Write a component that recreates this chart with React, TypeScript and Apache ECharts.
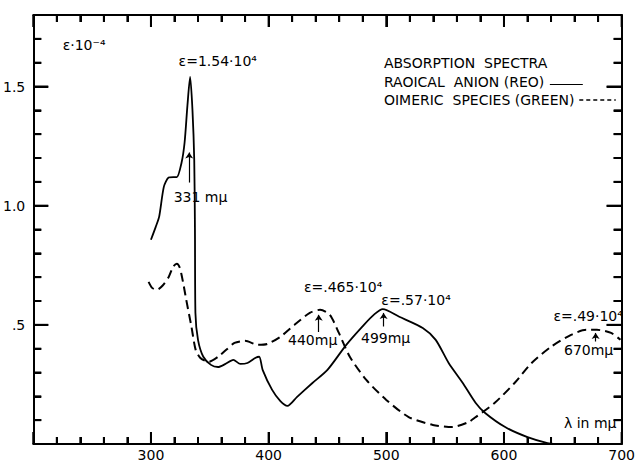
import React, { useEffect, useRef } from "react";
import * as echarts from "echarts";

// Radical anion (red) — solid curve: [wavelength mμ, ε·10^-4]
const radicalAnion: [number, number][] = [
  [300, 0.857], [304, 0.91], [307, 0.954], [311, 1.08], [315, 1.118], [319, 1.12], [322, 1.12],
  [326, 1.18], [328.6, 1.265], [331, 1.42], [333.3, 1.54], [335.3, 1.40], [336.8, 1.19],
  [337.4, 0.9], [337.8, 0.55], [340, 0.437], [344.5, 0.366], [351, 0.332], [357, 0.323],
  [363, 0.335], [370, 0.353], [376, 0.336], [382, 0.34], [389, 0.362], [392, 0.366],
  [395, 0.31], [403, 0.227], [410, 0.18], [416, 0.16], [424, 0.197], [437, 0.255],
  [450, 0.311], [466, 0.416], [481, 0.5], [490, 0.545], [497, 0.566], [511, 0.534],
  [531, 0.487], [542, 0.437], [553, 0.34], [565, 0.256], [576, 0.172], [584, 0.13],
  [601, 0.071], [620, 0.029], [637, 0.004], [645, 0],
];

// Dimeric species (green) — dashed curve
const dimericSpecies: [number, number][] = [
  [298, 0.68], [301, 0.655], [305, 0.647], [310, 0.665], [315, 0.70], [319, 0.745], [322, 0.756],
  [324.5, 0.74], [326, 0.71], [328, 0.66], [330, 0.605], [334.5, 0.49], [338, 0.395],
  [342, 0.361], [349, 0.345], [357, 0.366], [364, 0.395], [371, 0.424], [380, 0.433],
  [391, 0.416], [399, 0.42], [410, 0.45], [422, 0.5], [435, 0.55], [443.7, 0.563],
  [452, 0.542], [459.7, 0.466], [469, 0.366], [483, 0.269], [500, 0.185], [519, 0.113],
  [539.5, 0.08], [556, 0.071], [570, 0.092], [576, 0.113], [592, 0.172], [609, 0.256],
  [623.5, 0.34], [640, 0.408], [657, 0.458], [670, 0.479], [679, 0.479], [691, 0.466],
  [699, 0.437],
];

const xTickLabels = [300, 400, 500, 600, 700];
const yTickLabels: [number, string][] = [[0.5, ".5"], [1.0, "1.0"], [1.5, "1.5"]];

// frame tick positions (minor every 20 mμ / 0.1, major every 100 mμ / 0.5)
const xTickValues = [200, 220, 240, 260, 280, 300, 320, 340, 360, 380, 400, 420, 440, 460, 480,
  500, 520, 540, 560, 580, 600, 620, 640, 660, 680, 700];
const yTickValues = [0, 0.1, 0.2, 0.3, 0.4, 0.5, 0.6, 0.7, 0.8, 0.9, 1.0, 1.1, 1.2, 1.3, 1.4,
  1.5, 1.6, 1.7, 1.8];

// annotation texts anchored in data coordinates (left edge, vertical middle)
const annotations: [string, number, number][] = [
  ["ε·10⁻⁴", 225, 1.676],
  ["ε=1.54·10⁴", 323.5, 1.605],
  ["331 mμ", 319.3, 1.038],
  ["ε=.465·10⁴", 430, 0.66],
  ["440mμ", 416.5, 0.437],
  ["ε=.57·10⁴", 495.8, 0.605],
  ["499mμ", 478.5, 0.445],
  ["ε=.49·10⁴", 642, 0.535],
  ["670mμ", 651, 0.395],
  ["λ in mμ", 651, 0.088],
  ["ABSORPTION  SPECTRA", 498, 1.60],
  ["RAOICAL  ANION (REO)", 498, 1.517],
  ["OIMERIC  SPECIES (GREEN)", 498, 1.445],
];

// arrows: [x, yFrom, yTo]
const arrows: [number, number, number][] = [
  [332.5, 1.097, 1.223],
  [442.6, 0.47, 0.542],
  [497.7, 0.493, 0.55],
  [677.9, 0.43, 0.466],
];

// legend sample lines: [x1, x2, y]
const solidSample: [number, number, number] = [639, 667, 1.508];
const dashedSample: [number, number, number] = [664, 695, 1.445];

const FONT = "DejaVu Sans";

export default function App() {
  const ref = useRef<HTMLDivElement>(null);
  useEffect(() => {
    if (!ref.current) return;
    const chart = echarts.init(ref.current, null, { renderer: "svg" });
    const line = (show: boolean) => ({ show, onZero: false, lineStyle: { color: "#000", width: 2 } });
    const tick = (len: number) => ({ show: true, inside: true, length: len, lineStyle: { color: "#000", width: 2 } });
    const xAxisOf = (pos: string, labels: boolean) => ({
      type: "value",
      position: pos,
      min: 200,
      max: 700,
      interval: 100,
      splitLine: { show: false },
      axisLine: line(true),
      axisTick: tick(12),
      minorTick: { show: true, splitNumber: 5, length: 7, lineStyle: { color: "#000", width: 2 } },
      axisLabel: labels
        ? {
            show: true,
            color: "#000",
            fontFamily: FONT,
            fontSize: 14,
            margin: 4,
            formatter: (v: number) => (xTickLabels.includes(v) ? String(v) : ""),
          }
        : { show: false },
    });
    const yAxisOf = (pos: string, interval: number, len: number, labels: boolean, showLine: boolean) => ({
      type: "value",
      position: pos,
      min: 0,
      max: 1.8,
      interval,
      splitLine: { show: false },
      axisLine: line(showLine),
      axisTick: tick(len),
      axisLabel: labels
        ? {
            show: true,
            color: "#000",
            fontFamily: FONT,
            fontSize: 14,
            margin: 8,
            formatter: (v: number) => {
              const f = yTickLabels.find((t) => Math.abs(t[0] - v) < 1e-6);
              return f ? f[1] : "";
            },
          }
        : { show: false },
    });
    const sampleLine = (s: [number, number, number]) => [
      { coord: [s[0], s[2]], symbol: "none" },
      { coord: [s[1], s[2]], symbol: "none" },
    ];
    // tick items: [side (0 bottom, 1 top, 2 left, 3 right), value, isMajor]
    const tickItems: number[][] = [];
    xTickValues.forEach((v) => {
      const major = v % 100 === 0 ? 1 : 0;
      tickItems.push([0, v, major], [1, v, major]);
    });
    yTickValues.forEach((v) => {
      const major = Math.abs(v * 2 - Math.round(v * 2)) < 1e-6 ? 1 : 0;
      tickItems.push([2, v, major], [3, v, major]);
    });
    chart.setOption({
      animation: false,
      grid: { left: 32, right: 8, top: 15, bottom: 19 },
      xAxis: [xAxisOf("bottom", true), xAxisOf("top", false)],
      yAxis: [
        yAxisOf("left", 0.1, 8, true, true),
        yAxisOf("left", 0.5, 15, false, false),
        yAxisOf("right", 0.1, 8, false, true),
        yAxisOf("right", 0.5, 15, false, false),
      ],
      series: [
        {
          type: "line",
          data: radicalAnion,
          smooth: 0.25,
          symbol: "none",
          lineStyle: { color: "#000", width: 1.8, type: "solid" },
          markLine: {
            silent: true,
            symbol: ["none", "arrow"],
            symbolSize: 6,
            label: { show: false },
            lineStyle: { color: "#000", width: 1.2, type: "solid" },
            data: [
              ...arrows.map(([x, a, b]) => [{ coord: [x, a] }, { coord: [x, b] }]),
              sampleLine(solidSample),
            ],
          },
          markPoint: {
            silent: true,
            symbol: "circle",
            symbolSize: 0,
            itemStyle: { color: "transparent" },
            label: {
              show: true,
              position: "right",
              distance: 0,
              color: "#000",
              fontFamily: FONT,
              fontSize: 14,
            },
            data: annotations.map(([t, x, y]) => ({ coord: [x, y], value: 0, label: { formatter: t } })),
          },
        },
        {
          type: "line",
          data: dimericSpecies,
          smooth: 0.25,
          symbol: "none",
          lineStyle: { color: "#000", width: 2, type: [9, 5] },
          markLine: {
            silent: true,
            symbol: "none",
            label: { show: false },
            lineStyle: { color: "#000", width: 1.6, type: [4, 3] },
            data: [sampleLine(dashedSample)],
          },
        },
        {
          type: "custom",
          silent: true,
          clip: false,
          z: 10,
          data: tickItems,
          renderItem: (_params: any, api: any) => {
            const side = api.value(0);
            const v = api.value(1);
            const major = api.value(2) === 1;
            let x1 = 0, y1 = 0, x2 = 0, y2 = 0;
            if (side === 0 || side === 1) {
              const p = api.coord([v, side === 0 ? 0 : 1.8]);
              const len = major ? 12 : 7;
              x1 = x2 = p[0];
              y1 = p[1];
              y2 = side === 0 ? p[1] - len : p[1] + len;
            } else {
              const p = api.coord([side === 2 ? 200 : 700, v]);
              const len = major ? 15 : 8;
              y1 = y2 = p[1];
              x1 = p[0];
              x2 = side === 2 ? p[0] + len : p[0] - len;
            }
            return {
              type: "line",
              shape: { x1, y1, x2, y2 },
              style: { stroke: "#000", lineWidth: 2 },
            };
          },
        },
      ],
    });
    return () => chart.dispose();
  }, []);
  return (
    <div
      ref={ref}
      style={{ position: "fixed", left: 0, top: 0, width: 638, height: 463, background: "#fff" }}
    />
  );
}
